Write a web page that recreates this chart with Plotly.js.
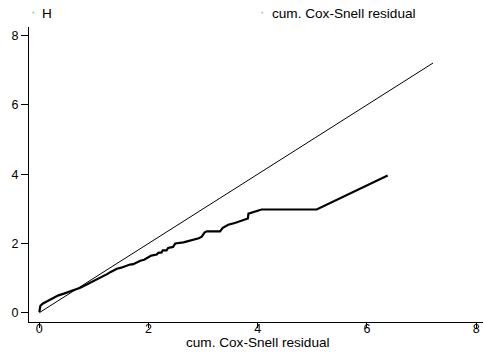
<!DOCTYPE html>
<html>
<head>
<meta charset="utf-8">
<script src="https://cdn.plot.ly/plotly-3.0.1.min.js"></script>
<style>html,body{margin:0;padding:0;background:#fff;}#chart{width:484px;height:358px;}</style>
</head>
<body>
<div id="chart"></div>
<script>
// Nelson-Aalen cumulative hazard H of the Cox-Snell residuals
var hX = [0.00, 0.01, 0.02, 0.06, 0.15, 0.25, 0.35, 0.45, 0.55, 0.65, 0.75, 0.85, 0.95, 1.05, 1.12, 1.18,
          1.25, 1.30, 1.35, 1.42, 1.50, 1.58, 1.66, 1.72, 1.78, 1.85, 1.92, 2.00, 2.05, 2.15, 2.18, 2.24,
          2.26, 2.33, 2.36, 2.45, 2.49, 2.64, 2.75, 2.82, 2.92, 2.97, 3.03, 3.07, 3.31, 3.36, 3.46, 3.58,
          3.68, 3.82, 3.83, 4.07, 4.40, 5.08, 6.38];
var hY = [0.02, 0.13, 0.20, 0.26, 0.33, 0.42, 0.50, 0.55, 0.60, 0.66, 0.72, 0.80, 0.88, 0.94, 1.00, 1.05,
          1.12, 1.17, 1.22, 1.27, 1.30, 1.35, 1.39, 1.40, 1.45, 1.50, 1.53, 1.62, 1.65, 1.68, 1.73, 1.74,
          1.80, 1.80, 1.87, 1.90, 2.00, 2.03, 2.07, 2.11, 2.15, 2.19, 2.32, 2.35, 2.35, 2.45, 2.54, 2.59,
          2.64, 2.72, 2.86, 2.98, 2.98, 2.98, 3.96];
// reference line: cum. Cox-Snell residual against itself
var csX = [0.00, 7.21];
var csY = [0.00, 7.21];
var tickVals = [0, 2, 4, 6, 8];
var tickText = ['0', '2', '4', '6', '8'];
var legendNames = ['H', 'cum. Cox-Snell residual'];
var xTitle = 'cum. Cox-Snell residual';

var FONT = 'Liberation Sans, Arial, sans-serif';
var FS = 13.6;
var TFS = 12.5;

var traces = [
  {x: hX, y: hY, type: 'scatter', mode: 'lines', name: legendNames[0],
   line: {color: '#000', width: 2.2, shape: 'linear'}, showlegend: false, hoverinfo: 'none'},
  {x: csX, y: csY, type: 'scatter', mode: 'lines', name: legendNames[1],
   line: {color: '#000', width: 1}, showlegend: false, hoverinfo: 'none'}
];

var L = 29, R = 483, T = 27, B = 322;
function px(p) { return (p - L) / (R - L); }
function py(p) { return (B - p) / (B - T); }

var annotations = [
  {text: '·', x: px(33.7), y: py(12), xanchor: 'center', yanchor: 'middle', font: {color: '#999', size: FS}},
  {text: legendNames[0], x: px(41), y: py(13), xanchor: 'left', yanchor: 'middle', font: {color: '#000', size: FS}},
  {text: '·', x: px(262), y: py(12), xanchor: 'center', yanchor: 'middle', font: {color: '#999', size: FS}},
  {text: legendNames[1], x: px(271), y: py(13), xanchor: 'left', yanchor: 'middle', font: {color: '#000', size: FS}},
  {text: xTitle, x: px(258), y: py(342), xanchor: 'center', yanchor: 'middle', font: {color: '#000', size: FS}}
].map(function (a) { a.xref = 'paper'; a.yref = 'paper'; a.showarrow = false; a.borderpad = 0; return a; });

var layout = {
  width: 484, height: 358,
  margin: {l: L, r: 484 - R, t: T, b: 358 - B, pad: 0},
  paper_bgcolor: '#fff', plot_bgcolor: '#fff',
  font: {family: FONT, size: FS, color: '#000'},
  showlegend: false,
  xaxis: {
    range: [-0.189, 8.126], tickvals: tickVals, ticktext: tickText,
    showgrid: false, zeroline: false, showline: true, linecolor: '#000', linewidth: 1,
    ticks: 'outside', ticklen: 5, tickcolor: '#000', tickwidth: 1,
    ticklabelstandoff: -10,
    tickfont: {family: FONT, size: TFS, color: '#000'},
    automargin: false
  },
  yaxis: {
    range: [-0.269, 8.251], tickvals: tickVals, ticktext: tickText,
    showgrid: false, zeroline: false, showline: true, linecolor: '#000', linewidth: 1,
    ticks: 'outside', ticklen: 7, tickcolor: '#000', tickwidth: 1,
    tickfont: {family: FONT, size: TFS, color: '#000'},
    automargin: false
  },
  annotations: annotations
};

Plotly.newPlot('chart', traces, layout, {staticPlot: true, displayModeBar: false});
</script>
</body>
</html>
